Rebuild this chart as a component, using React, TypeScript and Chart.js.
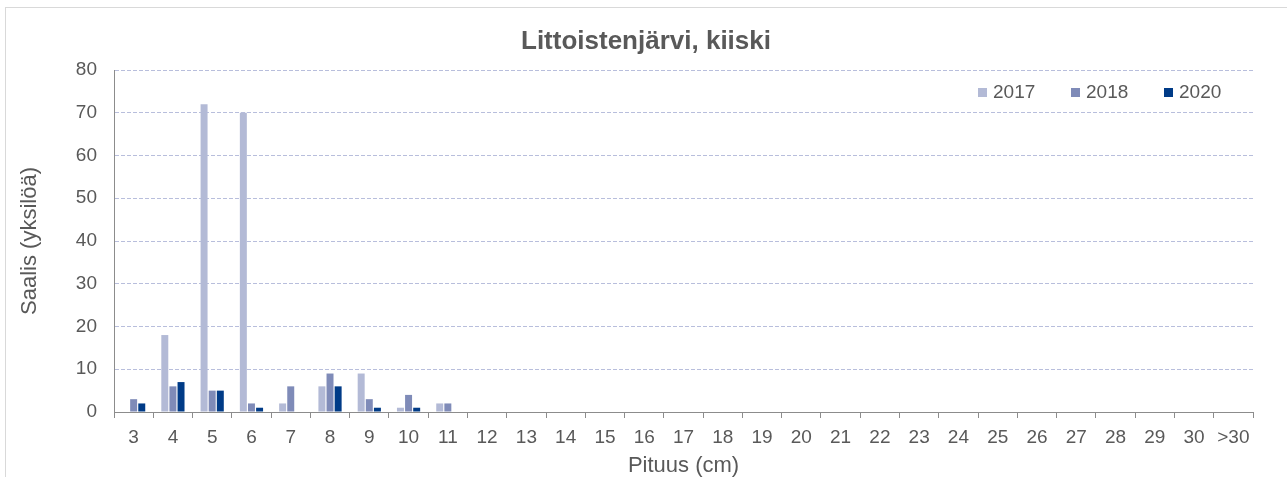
import React, { useEffect, useRef } from "react";
import { Chart, registerables } from "chart.js";

Chart.register(...registerables);

const categories = ["3","4","5","6","7","8","9","10","11","12","13","14","15","16","17","18","19","20","21","22","23","24","25","26","27","28","29","30",">30"];
const values2017 = [0,18,72,70,2,6,9,1,2,0,0,0,0,0,0,0,0,0,0,0,0,0,0,0,0,0,0,0,0];
const values2018 = [3,6,5,2,6,9,3,4,2,0,0,0,0,0,0,0,0,0,0,0,0,0,0,0,0,0,0,0,0];
const values2020 = [2,7,5,1,0,6,1,1,0,0,0,0,0,0,0,0,0,0,0,0,0,0,0,0,0,0,0,0,0];
const seriesLabels = ["2017", "2018", "2020"];
const seriesColors = ["#b3bad6", "#7f8bb8", "#003b87"];

const TEXT = "#595959";
const FONT = "'Liberation Sans', Arial, sans-serif";

const decorPlugin = {
  id: "decor",
  beforeDraw(chart: any) {
    const ctx = chart.ctx;
    ctx.save();
    ctx.fillStyle = "#ffffff";
    ctx.fillRect(0, 0, chart.width, chart.height);
    ctx.strokeStyle = "#d9d9d9";
    ctx.lineWidth = 1;
    ctx.strokeRect(5.5, 7.5, chart.width + 10, chart.height + 10);
    ctx.restore();
  },
  afterDraw(chart: any) {
    const ctx = chart.ctx;
    ctx.save();
    ctx.fillStyle = TEXT;
    ctx.font = "bold 26px " + FONT;
    ctx.textAlign = "center";
    ctx.textBaseline = "middle";
    ctx.fillText("Littoistenjärvi, kiiski", 646, 42);
    // legend
    const xs = [978, 1071, 1164];
    ctx.font = "19px " + FONT;
    ctx.textAlign = "left";
    chart.data.datasets.forEach((ds: any, i: number) => {
      ctx.fillStyle = ds.backgroundColor;
      ctx.fillRect(xs[i], 88, 9, 9);
      ctx.fillStyle = TEXT;
      ctx.fillText(ds.label, xs[i] + 15, 93);
    });
    ctx.restore();
  },
};

export default function App() {
  const ref = useRef<HTMLCanvasElement>(null);
  useEffect(() => {
    document.body.style.margin = "0";
    const chart = new Chart(ref.current!, {
      type: "bar",
      data: {
        labels: categories,
        datasets: [values2017, values2018, values2020].map((v, i) => ({
          label: seriesLabels[i],
          data: v,
          backgroundColor: seriesColors[i],
          borderWidth: 0,
          barPercentage: 0.86,
          categoryPercentage: 0.62,
        })),
      },
      options: {
        animation: false,
        responsive: false,
        maintainAspectRatio: false,
        layout: { padding: { top: 70, right: 34, left: 0, bottom: 0 } },
        plugins: {
          legend: { display: false },
          title: { display: false },
          tooltip: { enabled: false },
        },
        scales: {
          x: {
            afterFit: (s: any) => { s.height = 65; },
            grid: {
              display: true,
              drawOnChartArea: false,
              drawTicks: true,
              tickLength: 6,
              offset: true,
              color: "#8c8c8c",
            },
            border: { display: true, color: "#8c8c8c" },
            ticks: {
              color: TEXT,
              font: { family: FONT, size: 19 },
              padding: 8,
              maxRotation: 0,
              autoSkip: false,
            },
            title: {
              display: true,
              text: "Pituus (cm)",
              color: TEXT,
              font: { family: FONT, size: 22, lineHeight: 1 },
              padding: { top: 0, bottom: 0 },
            },
          },
          y: {
            min: 0,
            max: 80,
            afterFit: (s: any) => { s.width = 114; },
            grid: {
              display: true,
              drawTicks: false,
              color: (c: any) => (c.tick && c.tick.value === 0 ? "rgba(0,0,0,0)" : "#b8bedc"),
              lineWidth: 1,
            },
            border: { display: true, color: "#8c8c8c", dash: [4, 2] as any },
            ticks: {
              stepSize: 10,
              color: TEXT,
              font: { family: FONT, size: 19 },
              padding: 17,
            },
            title: {
              display: true,
              text: "Saalis (yksilöä)",
              color: TEXT,
              font: { family: FONT, size: 22, lineHeight: 1 },
              padding: { top: 19, bottom: 0 },
            },
          },
        },
      },
      plugins: [decorPlugin],
    });
    return () => chart.destroy();
  }, []);
  return (
    <div style={{ width: 1287, height: 477 }}>
      <canvas ref={ref} width={1287} height={477} style={{ display: "block" }} />
    </div>
  );
}
